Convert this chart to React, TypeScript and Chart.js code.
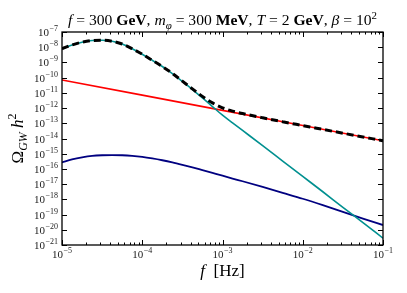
import React, { useEffect, useRef } from "react";
import { Chart, registerables } from "chart.js";

Chart.register(...registerables);

// log10 of frequency [Hz]
const logFreq = [-5, -4.875, -4.75, -4.625, -4.5, -4.375, -4.25, -4.125, -4, -3.875, -3.75, -3.625, -3.5, -3.375, -3.25, -3.125, -3, -2.875, -2.75, -2.5, -2.25, -2, -1.75, -1.5, -1.25, -1];
// log10 of Omega_GW h^2 for each curve
const tealLog = [-8.10, -7.85, -7.67, -7.56, -7.54, -7.61, -7.79, -8.10, -8.46, -8.86, -9.27, -9.73, -10.25, -10.78, -11.33, -11.90, -12.47, -12.97, -13.47, -14.47, -15.48, -16.49, -17.50, -18.52, -19.53, -20.55];
const navyLog = [-15.57, -15.38, -15.24, -15.14, -15.10, -15.09, -15.10, -15.14, -15.21, -15.31, -15.43, -15.57, -15.73, -15.90, -16.08, -16.26, -16.44, -16.63, -16.81, -17.18, -17.57, -17.96, -18.38, -18.82, -19.26, -19.69];
const totalLog = [-8.10, -7.85, -7.67, -7.56, -7.54, -7.61, -7.79, -8.10, -8.46, -8.86, -9.27, -9.72, -10.23, -10.74, -11.23, -11.66, -11.98, -12.20, -12.36, -12.64, -12.90, -13.15, -13.40, -13.65, -13.90, -14.15];
const redLogFreq = [-5, -4, -3, -2, -1];
const redLog = [-10.15, -11.15, -12.15, -13.15, -14.15];

const xTickExps = [-5, -4, -3, -2, -1];
const yTickExps = [-21, -20, -19, -18, -17, -16, -15, -14, -13, -12, -11, -10, -9, -8, -7];

const SERIF = '"Liberation Serif", "DejaVu Serif", serif';

function toPoints(lx: number[], ly: number[]) {
  return lx.map((v, i) => ({ x: Math.pow(10, v), y: Math.pow(10, ly[i]) }));
}

function drawPow(ctx: CanvasRenderingContext2D, x: number, y: number, exp: number, mode: "right" | "center") {
  const base = "10";
  const sup = "\u2212" + String(Math.abs(exp));
  ctx.font = `11px ${SERIF}`;
  const wb = ctx.measureText(base).width;
  ctx.font = `8px ${SERIF}`;
  const ws = ctx.measureText(sup).width;
  const total = wb + ws + 0.5;
  const x0 = mode === "right" ? x - total : x - total / 2;
  ctx.textAlign = "left";
  ctx.textBaseline = "alphabetic";
  ctx.font = `11px ${SERIF}`;
  ctx.fillText(base, x0, y);
  ctx.font = `8px ${SERIF}`;
  ctx.fillText(sup, x0 + wb + 0.5, y - 5);
}

type Seg = { t: string; style: "r" | "i" | "b"; pos?: "sub" | "sup" };

const titleSegs: Seg[] = [
  { t: "f", style: "i" },
  { t: " = 300 ", style: "r" },
  { t: "GeV", style: "b" },
  { t: ", ", style: "r" },
  { t: "m", style: "i" },
  { t: "\u03c6", style: "i", pos: "sub" },
  { t: " = 300 ", style: "r" },
  { t: "MeV", style: "b" },
  { t: ", ", style: "r" },
  { t: "T", style: "i" },
  { t: " = 2 ", style: "r" },
  { t: "GeV", style: "b" },
  { t: ", ", style: "r" },
  { t: "\u03b2", style: "i" },
  { t: " = 10", style: "r" },
  { t: "2", style: "r", pos: "sup" },
];

function segFont(s: Seg, size: number) {
  const sz = s.pos ? size * 0.7 : size;
  const st = s.style === "i" ? "italic " : s.style === "b" ? "bold " : "";
  return `${st}${sz}px ${SERIF}`;
}

function segsWidth(ctx: CanvasRenderingContext2D, segs: Seg[], size: number) {
  let total = 0;
  for (const s of segs) {
    ctx.font = segFont(s, size);
    total += ctx.measureText(s.t).width;
  }
  return total;
}

function drawSegs(ctx: CanvasRenderingContext2D, segs: Seg[], cx: number, y: number, size: number) {
  const total = segsWidth(ctx, segs, size);
  let x = cx - total / 2;
  ctx.textAlign = "left";
  ctx.textBaseline = "alphabetic";
  for (const s of segs) {
    ctx.font = segFont(s, size);
    const dy = s.pos === "sub" ? size * 0.25 : s.pos === "sup" ? -size * 0.4 : 0;
    ctx.fillText(s.t, x, y + dy);
    x += ctx.measureText(s.t).width;
  }
  return total;
}

const axesPlugin = {
  id: "mplAxes",
  afterDraw(chart: any) {
    const ctx: CanvasRenderingContext2D = chart.ctx;
    const { left, right, top, bottom } = chart.chartArea;
    const xs = chart.scales.x;
    const ys = chart.scales.y;
    ctx.save();
    ctx.strokeStyle = "#000";
    ctx.lineWidth = 1;
    ctx.beginPath();
    for (let k = 0; k < xTickExps.length; k++) {
      const e = xTickExps[k];
      const px = Math.round(xs.getPixelForValue(Math.pow(10, e))) + 0.5;
      ctx.moveTo(px, bottom);
      ctx.lineTo(px, bottom - 5);
      ctx.moveTo(px, top);
      ctx.lineTo(px, top + 5);
      if (k < xTickExps.length - 1) {
        for (let m = 2; m <= 9; m++) {
          const mx = Math.round(xs.getPixelForValue(m * Math.pow(10, e))) + 0.5;
          ctx.moveTo(mx, bottom);
          ctx.lineTo(mx, bottom - 2.5);
          ctx.moveTo(mx, top);
          ctx.lineTo(mx, top + 2.5);
        }
      }
    }
    for (const e of yTickExps) {
      const py = Math.round(ys.getPixelForValue(Math.pow(10, e))) + 0.5;
      ctx.moveTo(left, py);
      ctx.lineTo(left + 5, py);
      ctx.moveTo(right, py);
      ctx.lineTo(right - 5, py);
    }
    ctx.stroke();
    ctx.lineWidth = 1.3;
    ctx.strokeRect(left, top, right - left, bottom - top);

    ctx.fillStyle = "#222";
    for (const e of xTickExps) {
      const px = xs.getPixelForValue(Math.pow(10, e));
      drawPow(ctx, px, bottom + 13, e, "center");
    }
    for (const e of yTickExps) {
      const py = ys.getPixelForValue(Math.pow(10, e));
      drawPow(ctx, left - 4, py + 4, e, "right");
    }

    // title, sized to span the reference width
    ctx.fillStyle = "#000";
    const w14 = segsWidth(ctx, titleSegs, 14);
    const tSize = 14 * 309 / w14;
    drawSegs(ctx, titleSegs, (left + right) / 2, top - 7, tSize);

    // x label
    const xl: Seg[] = [
      { t: "f", style: "i" },
      { t: "  [Hz]", style: "r" },
    ];
    drawSegs(ctx, xl, (left + right) / 2, bottom + 31, 17);

    // y label
    ctx.save();
    ctx.translate(23, (top + bottom) / 2);
    ctx.rotate(-Math.PI / 2);
    const yl: Seg[] = [
      { t: "\u03a9", style: "r" },
      { t: "GW", style: "i", pos: "sub" },
      { t: " h", style: "i" },
      { t: "2", style: "r", pos: "sup" },
    ];
    drawSegs(ctx, yl, 0, 0, 17);
    ctx.restore();
    ctx.restore();
  },
};

export default function App() {
  const ref = useRef<HTMLCanvasElement | null>(null);
  useEffect(() => {
    if (!ref.current) return;
    const common = { pointRadius: 0, fill: false, cubicInterpolationMode: "monotone" as const };
    const chart = new Chart(ref.current, {
      type: "line",
      data: {
        datasets: [
          { ...common, label: "total", data: toPoints(logFreq, totalLog), borderColor: "#000000", borderWidth: 3, borderDash: [7, 4], order: 0 },
          { ...common, label: "teal", data: toPoints(logFreq, tealLog), borderColor: "#009090", borderWidth: 1.6, order: 1 },
          { ...common, label: "red", data: toPoints(redLogFreq, redLog), borderColor: "#ff0000", borderWidth: 1.6, order: 2 },
          { ...common, label: "navy", data: toPoints(logFreq, navyLog), borderColor: "#000080", borderWidth: 1.8, order: 3 },
        ],
      },
      options: {
        animation: false,
        responsive: false,
        devicePixelRatio: 1,
        parsing: false as any,
        layout: { padding: { left: 62, top: 32, right: 24, bottom: 48 } },
        plugins: { legend: { display: false }, title: { display: false }, tooltip: { enabled: false } },
        scales: {
          x: { type: "logarithmic", min: 1e-5, max: 1e-1, display: false },
          y: { type: "logarithmic", min: 1e-21, max: 1e-7, display: false },
        },
      },
      plugins: [axesPlugin],
    });
    return () => chart.destroy();
  }, []);
  return (
    <div style={{ position: "fixed", left: 0, top: 0, width: 407, height: 293, background: "#fff" }}>
      <canvas ref={ref} width={407} height={293} style={{ width: 407, height: 293 }} />
    </div>
  );
}
